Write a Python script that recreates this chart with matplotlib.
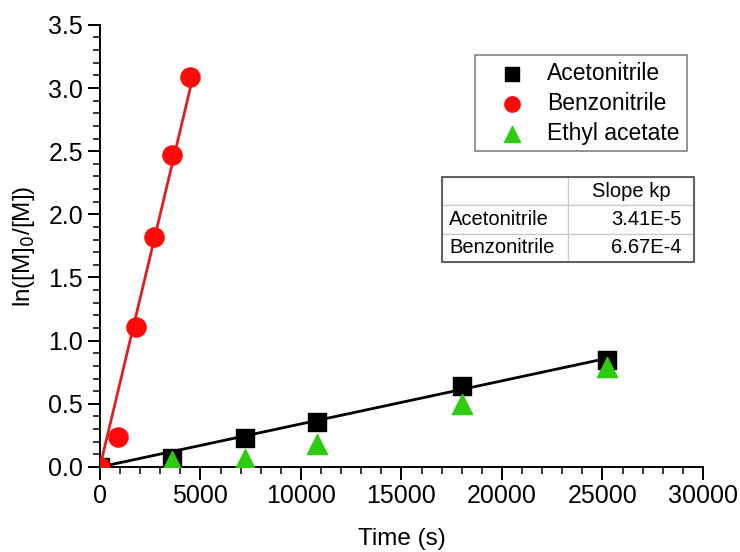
import matplotlib
matplotlib.use("Agg")
import matplotlib.pyplot as plt
import numpy as np
from matplotlib.ticker import MultipleLocator, FormatStrFormatter

plt.rcParams["font.family"] = ["Liberation Sans", "DejaVu Sans"]

# data
t_aceto = [0, 3600, 7200, 10800, 18000, 25200]
y_aceto = [0.0, 0.07, 0.23, 0.36, 0.64, 0.85]

t_benzo = [0, 900, 1800, 2700, 3600, 4500]
y_benzo = [0.0, 0.24, 1.11, 1.82, 2.47, 3.09]

t_ethyl = [3600, 7200, 10800, 18000, 25200]
y_ethyl = [0.05, 0.06, 0.18, 0.50, 0.79]

table_rows = ["Acetonitrile", "Benzonitrile"]
table_header = "Slope kp"
slope_labels = ["3.41E-5", "6.67E-4"]
slopes = [3.41e-5, 6.67e-4]

fig = plt.figure(figsize=(7.4, 5.52), dpi=100)
ax = fig.add_axes([0.135, 0.154, 0.815, 0.801])

# fit lines (through origin, slope from table)
xa = np.array([0, max(t_aceto)])
ax.plot(xa, slopes[0] * xa, color="black", lw=2, zorder=2)
xb = np.array([0, max(t_benzo)])
ax.plot(xb, slopes[1] * xb, color="#e02020", lw=2, zorder=2)

ax.scatter(t_aceto, y_aceto, marker="s", s=150, color="black", zorder=3,
           label="Acetonitrile")
ax.scatter(t_benzo, y_benzo, marker="o", s=190, color="#ff0a0a", zorder=3,
           label="Benzonitrile")
ax.scatter(t_ethyl, y_ethyl, marker="^", s=210, color="#2ecc10", zorder=4,
           label="Ethyl acetate")

ax.set_xlim(0, 30000)
ax.set_ylim(0, 3.5)
ax.xaxis.set_major_locator(MultipleLocator(5000))
ax.xaxis.set_minor_locator(MultipleLocator(1000))
ax.yaxis.set_major_locator(MultipleLocator(0.5))
ax.yaxis.set_minor_locator(MultipleLocator(0.1))
ax.yaxis.set_major_formatter(FormatStrFormatter("%.1f"))

for s in ["top", "right"]:
    ax.spines[s].set_visible(False)
ax.spines["left"].set_linewidth(1.4)
ax.spines["bottom"].set_linewidth(1.4)
ax.tick_params(which="major", direction="out", length=9, width=1.4,
               labelsize=18, pad=3)
ax.tick_params(which="minor", direction="out", length=5, width=1.1)

ax.set_xlabel("Time (s)", fontsize=17.5, labelpad=15)
ax.set_ylabel(r"ln([M]$_0$/[M])", fontsize=17.5, labelpad=8)

leg = ax.legend(loc="upper left", bbox_to_anchor=(0.622, 0.932), fontsize=16.5,
                frameon=True, fancybox=False, handletextpad=0.25,
                borderpad=0.3, labelspacing=0.3, scatterpoints=1,
                markerscale=0.8, borderaxespad=0, handlelength=2.6)
leg.get_frame().set_edgecolor("#555555")
leg.get_frame().set_linewidth(1.1)

# slope table
tb = [0.567, 0.464, 0.418, 0.192]
cell_text = [["", table_header]] + [[r, v] for r, v in zip(table_rows, slope_labels)]
tab = ax.table(cellText=cell_text, cellLoc="right", colWidths=[0.5, 0.5],
               bbox=tb)
tab.auto_set_font_size(False)
tab.set_fontsize(14.5)
for (r, c), cell in tab.get_celld().items():
    cell.set_edgecolor("#c8c8c8")
    cell.set_linewidth(0.9)
    if c == 0:
        cell._loc = "left"
        cell.PAD = 0.06
        cell.get_text().set_horizontalalignment("left")
    if r == 0 and c == 1:
        cell._loc = "center"
        cell.get_text().set_horizontalalignment("center")
ax.add_patch(plt.Rectangle((tb[0], tb[1]), tb[2], tb[3], transform=ax.transAxes,
                           fill=False, edgecolor="#555555", lw=1.3, zorder=5,
                           clip_on=False))

fig.savefig("out.png", dpi=100)
